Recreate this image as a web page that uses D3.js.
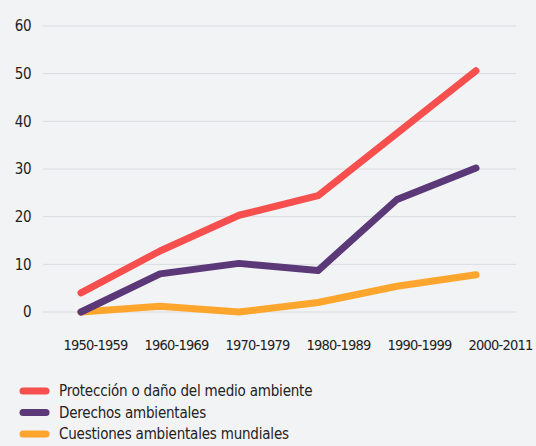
<!DOCTYPE html>
<html>
<head>
<meta charset="utf-8">
<script src="https://cdn.jsdelivr.net/npm/d3@7"></script>
<style>
  body { margin: 0; background: #f2f3f5; }
  svg { display: block; }
  text { font-family: "DejaVu Sans Condensed", sans-serif; fill: #222; }
</style>
</head>
<body>
<svg id="chart" width="536" height="446"></svg>
<script>
// data
var periods = ['1950-1959', '1960-1969', '1970-1979', '1980-1989', '1990-1999', '2000-2011'];
var yTicks  = [0, 10, 20, 30, 40, 50, 60];
var proteccion = [4, 12.8, 20.3, 24.4, 37.5, 50.6];
var derechos   = [0, 8, 10.2, 8.7, 23.6, 30.2];
var mundiales  = [0, 1.2, 0, 2, 5.4, 7.8];
var seriesNames = ['Protección o daño del medio ambiente', 'Derechos ambientales', 'Cuestiones ambientales mundiales'];
var seriesColors = ['#f74e4e', '#5b3878', '#fda52c'];

var svg = d3.select('#chart');

var x = d3.scalePoint().domain(periods).range([81, 476]);
var xLab = d3.scalePoint().domain(periods).range([95, 500]);
var y = d3.scaleLinear().domain([0, 60]).range([312, 26]);

// grid
svg.append('g')
  .selectAll('line').data(yTicks).enter().append('line')
  .attr('x1', 43).attr('x2', 516)
  .attr('y1', function(d) { return y(d); })
  .attr('y2', function(d) { return y(d); })
  .attr('stroke', '#dadbde')
  .attr('stroke-width', 1);

// y axis labels
var yAxis = d3.axisLeft(y).tickValues(yTicks).tickSize(0).tickPadding(0);
var ya = svg.append('g').attr('transform', 'translate(31,0)').call(yAxis);
ya.select('.domain').remove();
ya.selectAll('text').style('font-size', '15px').style('letter-spacing', '-0.5px').attr('fill', '#222');

// x axis labels
var xAxis = d3.axisBottom(xLab).tickSize(0).tickPadding(0);
var xa = svg.append('g').attr('transform', 'translate(0,340)').call(xAxis);
xa.select('.domain').remove();
xa.selectAll('text').style('font-size', '14.5px').style('letter-spacing', '-0.8px').attr('fill', '#222');

// lines
var allSeries = [proteccion, derechos, mundiales];
var line = d3.line()
  .x(function(d, i) { return x(periods[i]); })
  .y(function(d) { return y(d); });

svg.append('g').selectAll('path').data(allSeries.slice().reverse()).enter().append('path')
  .attr('d', line)
  .attr('fill', 'none')
  .attr('stroke', function(d, i) { return seriesColors[2 - i]; })
  .attr('stroke-width', 7)
  .attr('stroke-linecap', 'round')
  .attr('stroke-linejoin', 'round');

// legend
var leg = svg.append('g').selectAll('g').data(seriesNames).enter().append('g')
  .attr('transform', function(d, i) { return 'translate(0,' + (391 + i * 21.5) + ')'; });
leg.append('line')
  .attr('x1', 23).attr('x2', 46).attr('y1', 0).attr('y2', 0)
  .attr('stroke', function(d, i) { return seriesColors[i]; })
  .attr('stroke-width', 7)
  .attr('stroke-linecap', 'round');
leg.append('text')
  .attr('x', 59).attr('y', 5)
  .style('font-size', '15px')
  .style('letter-spacing', '-0.2px')
  .text(function(d) { return d; });
</script>
</body>
</html>
